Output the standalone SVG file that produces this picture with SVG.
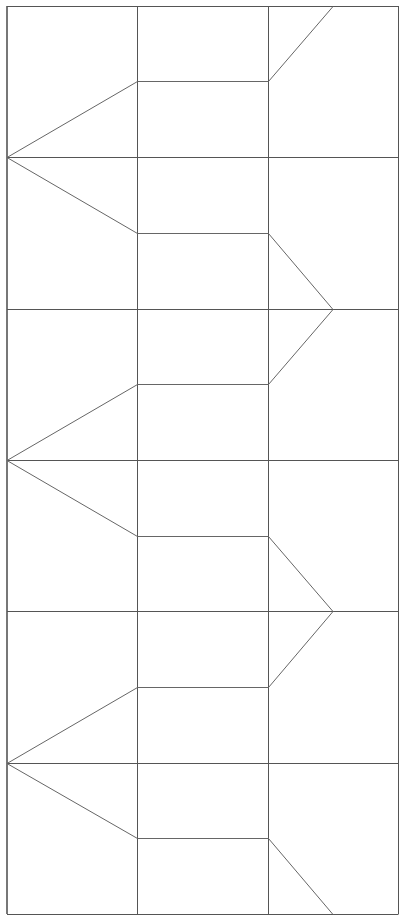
<svg xmlns="http://www.w3.org/2000/svg" width="404" height="920" viewBox="0 0 404 920">
<style>
.g{stroke:#555;stroke-width:1;fill:none}
.z{stroke:#666;stroke-width:1;fill:none}
</style>
<rect width="404" height="920" fill="#fff"/>
<g id="grid">
<line class="g" x1="7" y1="6" x2="7" y2="914" stroke-width="2" style="stroke:#777;stroke-width:2"/>
<line class="g" x1="137.5" y1="6" x2="137.5" y2="914"/>
<line class="g" x1="268.5" y1="6" x2="268.5" y2="914"/>
<line class="g" x1="398.5" y1="6" x2="398.5" y2="914"/>
<line class="g" x1="7" y1="6.5" x2="398.5" y2="6.5"/>
<line class="g" x1="7" y1="157.5" x2="398.5" y2="157.5"/>
<line class="g" x1="7" y1="309.5" x2="398.5" y2="309.5"/>
<line class="g" x1="7" y1="460.5" x2="398.5" y2="460.5"/>
<line class="g" x1="7" y1="611.5" x2="398.5" y2="611.5"/>
<line class="g" x1="7" y1="763.5" x2="398.5" y2="763.5"/>
<line class="g" x1="7" y1="914.5" x2="398.5" y2="914.5"/>
</g>
<g id="connectors">
<polyline class="z" points="333,6.5 268.5,81.5 137.5,81.5 7,157.5 137.5,233.5 268.5,233.5 333,309.5 268.5,384.5 137.5,384.5 7,460.5 137.5,536.5 268.5,536.5 333,611.5 268.5,687.5 137.5,687.5 7,763.5 137.5,838.5 268.5,838.5 333,914.5"/>
</g>
</svg>
